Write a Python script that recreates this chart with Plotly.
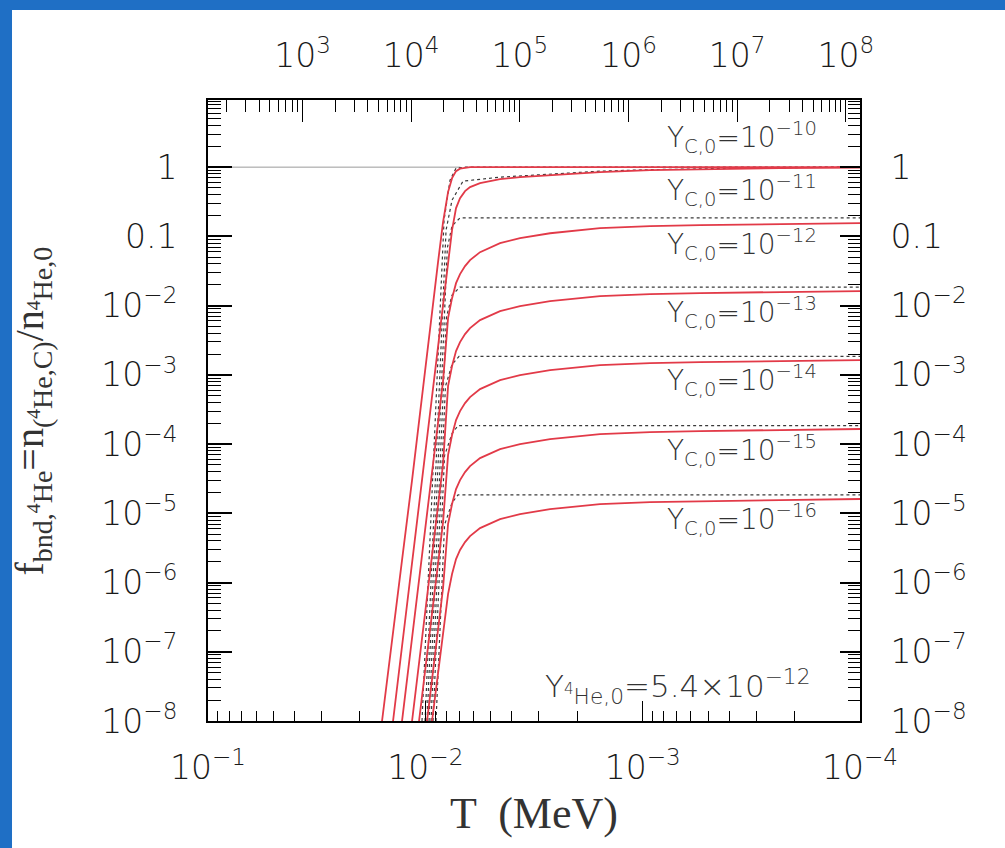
import plotly.graph_objects as go

# ---------------- data ----------------
T_grid = [0.01582, 0.01408, 0.01280, 0.01151, 0.01069, 0.009822, 0.009315, 0.008740,
          0.008289, 0.007861, 0.007535, 0.007223, 0.006923, 0.006566, 0.006227, 0.005601,
          0.004531, 0.003666, 0.002667, 0.001571, 0.0009244, 0.0005443, 0.0002332, 0.0001]

f_m10 = [1e-8, 2.06e-7, 2.11e-6, 3.02e-5, 2.22e-4, 1.93e-3, 8.06e-3, 0.0425, 0.161, 0.436,
         0.694, 0.875, 0.951, 0.984, 1, 1, 1, 1, 1, 1, 1, 1, 1, 1]
f_m11 = [None, 1e-8, 1.21e-7, 1.91e-6, 1.32e-5, 1.18e-4, 4.77e-4, 2.52e-3, 9.84e-3, 0.0384,
         0.123, 0.256, 0.357, 0.450, 0.514, 0.588, 0.671, 0.717, 0.767, 0.847, 0.905, 0.936,
         0.967, 0.984]
f_m12 = [None, None, 1e-8, 1.58e-7, 1.09e-6, 9.75e-6, 3.94e-5, 2.08e-4, 8.13e-4, 6.60e-3,
         0.0128, 0.0211, 0.0285, 0.0372, 0.0454, 0.0592, 0.0799, 0.0943, 0.111, 0.132, 0.141,
         0.145, 0.150, 0.155]
f_m13 = [None, None, None, 1e-8, 6.88e-8, 6.17e-7, 2.49e-6, 1.32e-5, 5.14e-5, 6.88e-4,
         1.34e-3, 2.20e-3, 2.97e-3, 3.88e-3, 4.73e-3, 6.17e-3, 8.33e-3, 9.84e-3, 0.0116,
         0.0137, 0.0147, 0.0152, 0.0157, 0.0162]
f_m14 = [None, None, None, None, 1e-8, 8.98e-8, 3.63e-7, 1.91e-6, 7.47e-6, 6.94e-5,
         1.35e-4, 2.22e-4, 3.00e-4, 3.91e-4, 4.77e-4, 6.23e-4, 8.40e-4, 9.92e-4, 1.17e-3,
         1.38e-3, 1.48e-3, 1.53e-3, 1.58e-3, 1.63e-3]
f_m15 = [None, None, None, None, None, 1e-8, 3.91e-8, 2.06e-7, 8.33e-7, 7.00e-6,
         1.36e-5, 2.24e-5, 3.02e-5, 3.94e-5, 4.81e-5, 6.28e-5, 8.47e-5, 1.00e-4, 1.18e-4,
         1.39e-4, 1.49e-4, 1.54e-4, 1.59e-4, 1.65e-4]
f_m16 = [None, None, None, None, None, None, 1e-8, 5.27e-8, 2.06e-7, 6.82e-7,
         1.33e-6, 2.18e-6, 2.95e-6, 3.84e-6, 4.69e-6, 6.12e-6, 8.26e-6, 9.75e-6, 1.15e-5,
         1.36e-5, 1.45e-5, 1.50e-5, 1.55e-5, 1.61e-5]
red_series = [f_m10, f_m11, f_m12, f_m13, f_m14, f_m15, f_m16]

# dotted (equilibrium) curves
dot_T_m10 = [0.01036, 0.008201, 0.007697, 0.007223, 0.006566, 0.0001]
dot_f_m10 = [1e-8, 0.172, 0.649, 0.967, 1.0, 1.0]
dot_T_m11 = [0.01003, 0.008030, 0.007535, 0.006707, 0.004531, 0.002667, 0.001571,
             0.0009244, 0.0005443, 0.0002332, 0.0001]
dot_f_m11 = [1e-8, 0.123, 0.334, 0.628, 0.717, 0.792, 0.875, 0.920, 0.951, 0.984, 1.0]
dot_T_m12 = [0.009822, 0.007920, 0.007535, 0.006923, 0.0001]
dot_f_m12 = [1e-8, 0.0682, 0.142, 0.185, 0.185]
dot_T_m13 = [0.009616, 0.007996, 0.007535, 0.006923, 0.0001]
dot_f_m13 = [1e-8, 6.82e-3, 0.0142, 0.0185, 0.0185]
dot_T_m14 = [0.009414, 0.008081, 0.007535, 0.006997, 0.0001]
dot_f_m14 = [1e-8, 6.82e-4, 1.42e-3, 1.85e-3, 1.85e-3]
dot_T_m15 = [0.009217, 0.008158, 0.007535, 0.007071, 0.0001]
dot_f_m15 = [1e-8, 6.82e-5, 1.42e-4, 1.85e-4, 1.85e-4]
dot_T_m16 = [0.008929, 0.008158, 0.007535, 0.007071, 0.0001]
dot_f_m16 = [1e-8, 6.82e-6, 1.42e-5, 1.85e-5, 1.85e-5]
dot_series = [(dot_T_m10, dot_f_m10), (dot_T_m11, dot_f_m11), (dot_T_m12, dot_f_m12),
              (dot_T_m13, dot_f_m13), (dot_T_m14, dot_f_m14), (dot_T_m15, dot_f_m15),
              (dot_T_m16, dot_f_m16)]

# thin reference line at f = 1
ref_T = [0.1, 0.0069]
ref_f = [1.0, 1.0]

# labels
label_exponents = ["10", "11", "12", "13", "14", "15", "16"]
label_logy = [0.433, -0.332, -1.112, -2.094, -3.076, -4.087, -5.083]

# tick labels
x_tickvals = [0.1, 0.01, 0.001, 0.0001]
x_ticktext = ["10<sup>−1</sup>", "10<sup>−2</sup>", "10<sup>−3</sup>", "10<sup>−4</sup>"]
t_tickvals = [1e3, 1e4, 1e5, 1e6, 1e7, 1e8]
t_ticktext = ["10<sup>3</sup>", "10<sup>4</sup>", "10<sup>5</sup>", "10<sup>6</sup>",
              "10<sup>7</sup>", "10<sup>8</sup>"]
y_tickvals = [1, 0.1, 1e-2, 1e-3, 1e-4, 1e-5, 1e-6, 1e-7, 1e-8]
y_ticktext = ["1", "0.1", "10<sup>−2</sup>", "10<sup>−3</sup>", "10<sup>−4</sup>",
              "10<sup>−5</sup>", "10<sup>−6</sup>", "10<sup>−7</sup>", "10<sup>−8</sup>"]

# ---------------- figure ----------------
RED = "#e23a48"
DOT = "#3a3a3a"
fig = go.Figure()

fig.add_trace(go.Scatter(x=ref_T, y=ref_f, mode="lines",
                         line=dict(color="#9a9a9a", width=1), hoverinfo="skip"))
for T_d, f_d in dot_series:
    fig.add_trace(go.Scatter(x=T_d, y=f_d, mode="lines",
                             line=dict(color=DOT, width=1.2, dash="dot"), hoverinfo="skip"))
for f in red_series:
    fig.add_trace(go.Scatter(x=T_grid, y=f, mode="lines",
                             line=dict(color=RED, width=1.8), hoverinfo="skip"))

# invisible traces to activate top and right axes
fig.add_trace(go.Scatter(x=[1e5], y=[1e-3], xaxis="x2", yaxis="y", mode="markers",
                         marker=dict(opacity=0), hoverinfo="skip"))
fig.add_trace(go.Scatter(x=[1e-2], y=[1e-3], xaxis="x", yaxis="y2", mode="markers",
                         marker=dict(opacity=0), hoverinfo="skip"))

def minor_vals(lo, hi):
    return [k * 10.0 ** n for n in range(lo, hi) for k in range(2, 10)]

TICKFONT = dict(family="DejaVu Sans", size=33, color="#1a1a1a", weight=300)
SERIF = "Liberation Serif"

fig.update_layout(
    width=1005, height=848,
    margin=dict(l=208, r=145, t=100, b=127),
    paper_bgcolor="white", plot_bgcolor="white",
    showlegend=False,
    xaxis=dict(type="log", range=[-1, -4], showgrid=False, zeroline=False,
               showline=True, linecolor="black", linewidth=2,
               tickmode="array", tickvals=x_tickvals, ticktext=x_ticktext,
               ticks="inside", ticklen=20, tickwidth=1, tickcolor="black",
               ticklabelstandoff=16, tickfont=TICKFONT,
               minor=dict(tickmode="array", tickvals=minor_vals(-4, -1), ticks="inside",
                          ticklen=10, tickwidth=1, tickcolor="black", showgrid=False),
               title=dict(text="T  (MeV)", font=dict(family=SERIF, size=44,
                                                      color="#333333"),
                          standoff=12)),
    xaxis2=dict(type="log", range=[2.13, 8.13], overlaying="x", side="top", anchor="y",
                showgrid=False, zeroline=False,
                showline=True, linecolor="black", linewidth=2,
                tickmode="array", tickvals=t_tickvals, ticktext=t_ticktext,
                ticks="inside", ticklen=22, tickwidth=1, tickcolor="black",
                ticklabelstandoff=18, tickfont=TICKFONT,
                minor=dict(tickmode="array", tickvals=minor_vals(2, 9), ticks="inside",
                           ticklen=12, tickwidth=1, tickcolor="black", showgrid=False)),
    yaxis=dict(type="log", range=[-8, 0.97], showgrid=False, zeroline=False,
               showline=True, linecolor="black", linewidth=2,
               tickmode="array", tickvals=y_tickvals, ticktext=y_ticktext,
               ticks="inside", ticklen=24, tickwidth=1.5, tickcolor="black",
               ticklabelstandoff=22, tickfont=TICKFONT,
               minor=dict(tickmode="array", tickvals=minor_vals(-8, 1), ticks="inside",
                          ticklen=13, tickwidth=1, tickcolor="black", showgrid=False)),
    yaxis2=dict(type="log", range=[-8, 0.97], overlaying="y", side="right", anchor="x",
                showgrid=False, zeroline=False,
                showline=True, linecolor="black", linewidth=2,
                tickmode="array", tickvals=y_tickvals, ticktext=y_ticktext,
                ticks="inside", ticklen=20, tickwidth=1.5, tickcolor="black",
                ticklabelstandoff=22, tickfont=TICKFONT,
                minor=dict(tickmode="array", tickvals=minor_vals(-8, 1), ticks="inside",
                           ticklen=12, tickwidth=1, tickcolor="black", showgrid=False)),
)

LABELFONT = dict(family="DejaVu Sans", size=28, color="#333333", weight=300)
for e, ly in zip(label_exponents, label_logy):
    fig.add_annotation(x=0.937, xref="paper", y=ly, yref="y", xanchor="right",
                       yanchor="middle", showarrow=False, font=LABELFONT,
                       text="Y<sub>C,0</sub>=10<sup>−" + e + "</sup>")

fig.add_annotation(x=0.926, xref="paper", y=-7.50, yref="y", xanchor="right",
                   yanchor="middle", showarrow=False,
                   font=dict(family="DejaVu Sans", size=31, color="#333333", weight=300),
                   text="Y<sub><sup>4</sup>He,0</sub>=5.4×10<sup>−12</sup>")

# rotated y-axis title
fig.add_annotation(x=-0.27, xref="paper", y=0.5, yref="paper", textangle=-90,
                   showarrow=False, xanchor="center", yanchor="middle",
                   font=dict(family=SERIF, size=40, color="#333333"),
                   text="f<sub>bnd,<sup>4</sup>He</sub>=n<sub>(<sup>4</sup>He,C)</sub>/n<sub><sup>4</sup>He,0</sub>")

# blue frame of the slide
BLUE = "#1f6fc5"
fig.add_shape(type="rect", xref="paper", yref="paper", x0=-0.33, x1=-0.3006,
              y0=-0.22, y1=1.17, fillcolor=BLUE, line=dict(width=0), layer="above")
fig.add_shape(type="rect", xref="paper", yref="paper", x0=-0.33, x1=1.24,
              y0=1.1449, y1=1.17, fillcolor=BLUE, line=dict(width=0), layer="above")

fig.write_html("out.html")
